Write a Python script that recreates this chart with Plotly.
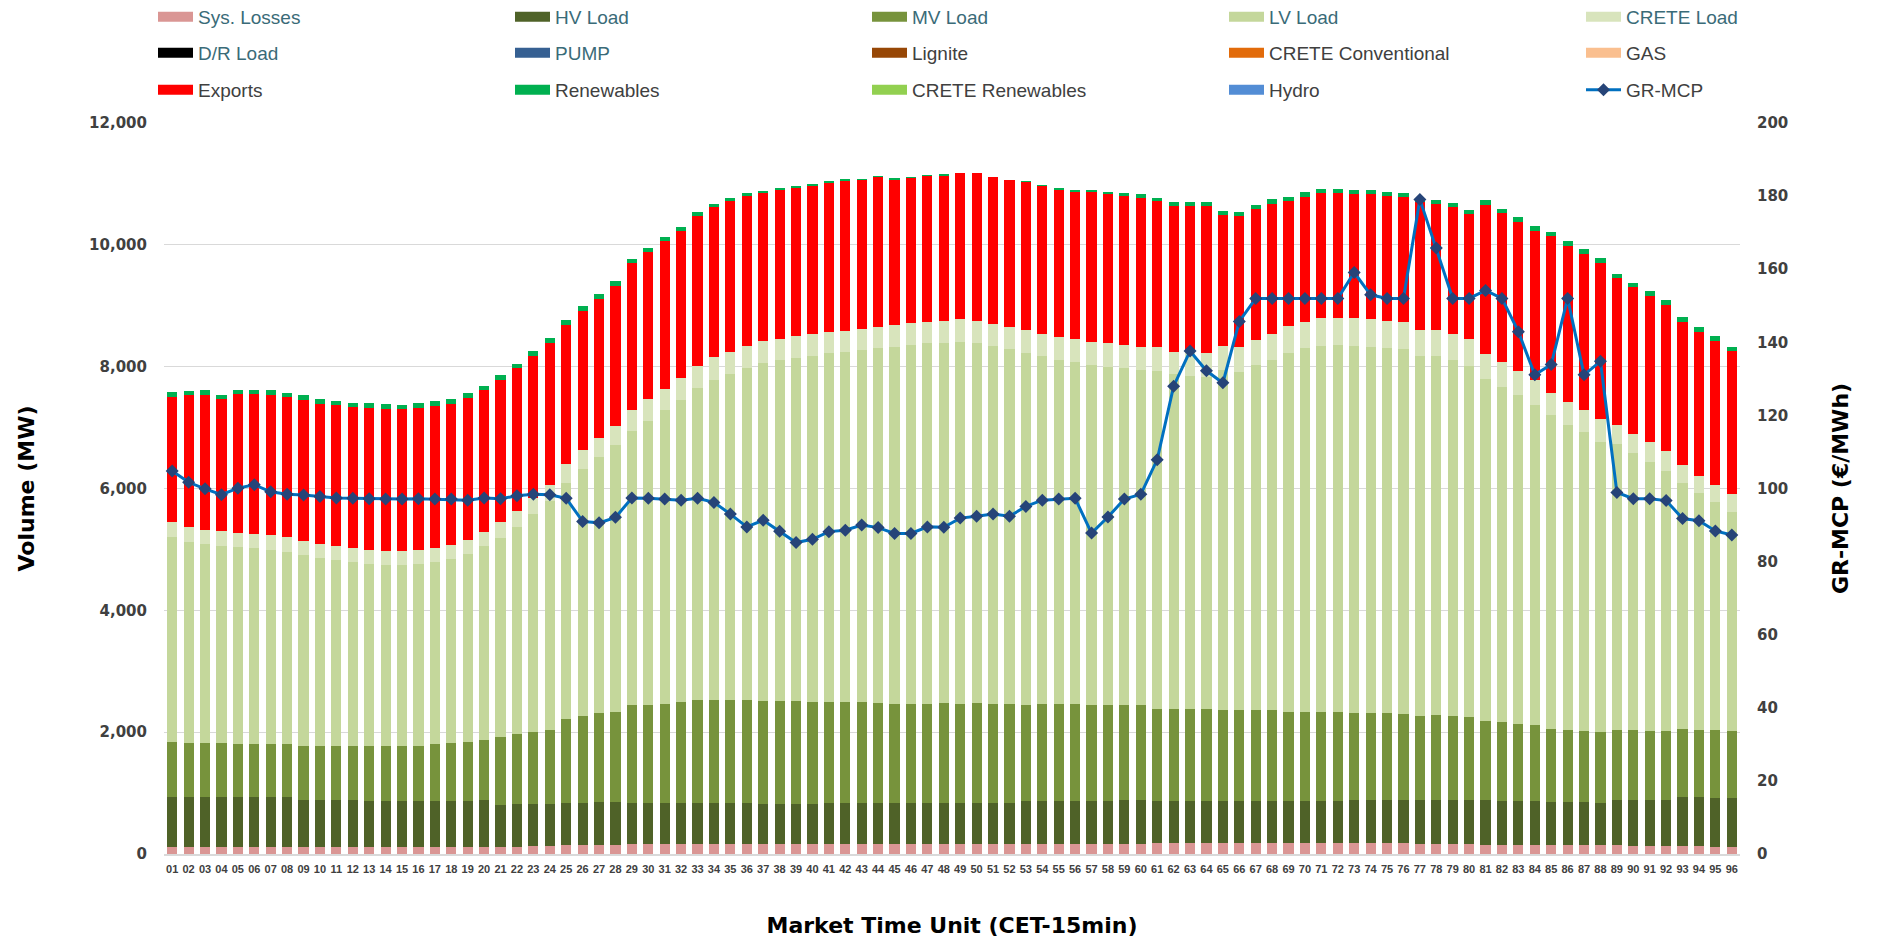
import plotly.graph_objects as go

# ---------------- data ----------------
mtu = ["01", "02", "03", "04", "05", "06", "07", "08", "09", "10", "11", "12",
       "13", "14", "15", "16", "17", "18", "19", "20", "21", "22", "23", "24",
       "25", "26", "27", "28", "29", "30", "31", "32", "33", "34", "35", "36",
       "37", "38", "39", "40", "41", "42", "43", "44", "45", "46", "47", "48",
       "49", "50", "51", "52", "53", "54", "55", "56", "57", "58", "59", "60",
       "61", "62", "63", "64", "65", "66", "67", "68", "69", "70", "71", "72",
       "73", "74", "75", "76", "77", "78", "79", "80", "81", "82", "83", "84",
       "85", "86", "87", "88", "89", "90", "91", "92", "93", "94", "95", "96"]

sys_losses = [110, 110, 110, 110, 110, 110, 110, 110, 110, 110, 110, 110,
              110, 110, 110, 110, 110, 110, 110, 110, 115, 120, 125, 130,
              140, 145, 150, 155, 160, 165, 165, 165, 170, 170, 170, 170,
              170, 170, 170, 170, 170, 170, 170, 170, 170, 170, 170, 170,
              170, 170, 170, 170, 170, 170, 170, 170, 170, 170, 170, 170,
              175, 175, 175, 175, 175, 175, 175, 175, 175, 175, 175, 175,
              183, 183, 183, 183, 165, 165, 165, 165, 155, 155, 155, 155,
              155, 155, 155, 155, 140, 135, 130, 130, 125, 125, 120, 120]

hv_load = [820, 820, 820, 820, 820, 820, 820, 820, 776, 776, 776, 776,
           762, 762, 762, 762, 762, 762, 762, 769, 691, 693, 688, 691,
           702, 697, 707, 702, 682, 677, 677, 677, 672, 672, 672, 665,
           658, 658, 651, 651, 672, 672, 672, 672, 672, 672, 672, 672,
           672, 672, 672, 672, 694, 694, 694, 694, 702, 702, 709, 709,
           697, 697, 697, 697, 689, 689, 689, 689, 689, 689, 689, 689,
           703, 703, 703, 703, 721, 721, 721, 721, 724, 717, 717, 709,
           702, 702, 702, 687, 746, 751, 756, 749, 805, 805, 803, 796]

mv_load = [902, 894, 894, 887, 872, 880, 872, 872, 880, 880, 880, 880,
           894, 894, 894, 901, 938, 952, 960, 989, 1121, 1158, 1194, 1216,
           1370, 1422, 1451, 1480, 1598, 1612, 1627, 1649, 1678, 1685, 1685, 1685,
           1685, 1677, 1684, 1677, 1656, 1656, 1649, 1642, 1620, 1620, 1627, 1642,
           1627, 1634, 1627, 1620, 1590, 1598, 1598, 1598, 1568, 1568, 1561, 1561,
           1516, 1516, 1509, 1509, 1495, 1495, 1502, 1495, 1473, 1473, 1473, 1466,
           1422, 1422, 1422, 1414, 1385, 1392, 1385, 1370, 1297, 1289, 1267, 1246,
           1194, 1180, 1165, 1165, 1151, 1143, 1136, 1143, 1114, 1107, 1106, 1106]

lv_load = [3369, 3297, 3260, 3231, 3231, 3216, 3187, 3158, 3142, 3091, 3055, 3033,
           2996, 2981, 2974, 2982, 2981, 3018, 3091, 3194, 3260, 3399, 3575, 3751,
           3876, 4051, 4212, 4381, 4498, 4652, 4820, 4967, 5128, 5261, 5356, 5451,
           5546, 5605, 5642, 5685, 5722, 5751, 5780, 5824, 5868, 5897, 5912, 5904,
           5941, 5912, 5868, 5831, 5773, 5706, 5648, 5619, 5589, 5560, 5531, 5509,
           5539, 5487, 5458, 5443, 5590, 5553, 5656, 5758, 5890, 5963, 6007, 6022,
           6029, 6022, 6000, 5993, 5905, 5898, 5846, 5759, 5626, 5509, 5392, 5267,
           5150, 5003, 4901, 4762, 4688, 4550, 4418, 4271, 4044, 3890, 3744, 3597]

crete_load = [242, 249, 242, 249, 234, 227, 242, 241, 235, 235, 234, 227,
              234, 227, 227, 234, 235, 235, 234, 227, 271, 264, 264, 271,
              315, 315, 315, 315, 351, 359, 352, 359, 367, 373, 366, 366,
              359, 352, 358, 352, 344, 344, 344, 344, 351, 352, 352, 359,
              367, 359, 366, 359, 374, 367, 381, 366, 381, 381, 381, 373,
              388, 367, 403, 403, 395, 410, 418, 425, 440, 440, 455, 447,
              454, 454, 439, 440, 425, 425, 425, 432, 403, 403, 396, 403,
              367, 374, 366, 374, 315, 315, 322, 322, 293, 278, 286, 286]

dr_load = [0] * 96
pump = [0] * 96
lignite = [0] * 96
crete_conventional = [0] * 96
gas = [0] * 96

exports = [2066, 2161, 2212, 2168, 2286, 2300, 2307, 2301, 2308, 2293, 2308, 2315,
           2330, 2337, 2344, 2337, 2329, 2315, 2323, 2323, 2330, 2337, 2330, 2329,
           2286, 2278, 2279, 2286, 2418, 2425, 2418, 2417, 2461, 2462, 2469, 2469,
           2432, 2439, 2433, 2439, 2454, 2462, 2455, 2462, 2396, 2395, 2403, 2396,
           2410, 2425, 2411, 2410, 2439, 2432, 2417, 2425, 2462, 2447, 2454, 2455,
           2403, 2403, 2388, 2403, 2140, 2147, 2146, 2132, 2058, 2051, 2051, 2051,
           2051, 2044, 2052, 2051, 2110, 2066, 2073, 2058, 2447, 2447, 2454, 2454,
           2571, 2571, 2564, 2557, 2411, 2410, 2396, 2403, 2352, 2366, 2366, 2359]

renewables = [81, 73, 74, 73, 66, 66, 74, 73, 80, 88, 73, 66,
              73, 74, 66, 73, 74, 81, 80, 73, 80, 73, 80, 81,
              80, 81, 80, 80, 66, 59, 73, 59, 66, 44, 44, 44,
              36, 37, 29, 22, 15, 10, 10, 5, 5, 5, 5, 5,
              0, 0, 0, 0, 3, 15, 30, 29, 36, 36, 51, 65,
              51, 66, 66, 73, 73, 73, 66, 81, 66, 73, 66, 66,
              66, 73, 73, 73, 58, 73, 66, 74, 81, 73, 73, 74,
              73, 74, 81, 80, 73, 73, 80, 81, 80, 81, 73, 66]

crete_renewables = [0] * 96
hydro = [0] * 96

gr_mcp = [104.8, 101.7, 99.9, 98.3, 100.1, 101.0, 99.1, 98.4, 98.2, 97.8, 97.4, 97.3,
          97.2, 97.1, 97.1, 97.2, 97.1, 97.1, 96.8, 97.4, 97.2, 98.0, 98.4, 98.3,
          97.3, 91.0, 90.6, 92.1, 97.4, 97.3, 97.1, 96.8, 97.3, 96.2, 93.0, 89.5,
          91.3, 88.3, 85.2, 86.1, 88.2, 88.6, 90.0, 89.3, 87.7, 87.7, 89.5, 89.4,
          91.9, 92.4, 93.0, 92.4, 95.1, 96.8, 97.1, 97.3, 87.8, 92.2, 97.1, 98.4,
          107.9, 128.0, 137.6, 132.2, 128.9, 145.7, 152.0, 152.0, 152.0, 152.0, 152.0, 152.0,
          159.1, 153.0, 152.0, 152.0, 179.1, 165.8, 152.0, 152.0, 154.2, 152.0, 142.9, 131.1,
          133.9, 152.0, 131.1, 134.8, 98.9, 97.2, 97.2, 96.7, 91.8, 91.2, 88.4, 87.3]

# ---------------- styling ----------------
W, H = 1877, 943
ML, MR, MT, MB = 164, 137, 123, 89
TEAL = "#3A6B78"
GRAY = "#404040"
TICK_FONT = dict(family="DejaVu Sans", size=15, color=GRAY, weight="bold")
TITLE_FONT = dict(family="DejaVu Sans", size=22, color="#000000", weight="bold")

# name, values, colour, legend text colour, legend row, legend column
series = [
    ("Sys. Losses", sys_losses, "#DA9694", TEAL, 1, 1),
    ("HV Load", hv_load, "#4F6228", TEAL, 1, 2),
    ("MV Load", mv_load, "#77933C", TEAL, 1, 3),
    ("LV Load", lv_load, "#C4D79B", TEAL, 1, 4),
    ("CRETE Load", crete_load, "#D8E4BC", TEAL, 1, 5),
    ("D/R Load", dr_load, "#000000", TEAL, 2, 1),
    ("PUMP", pump, "#366092", TEAL, 2, 2),
    ("Lignite", lignite, "#974706", GRAY, 2, 3),
    ("CRETE Conventional", crete_conventional, "#E26B0A", GRAY, 2, 4),
    ("GAS", gas, "#FABF8F", GRAY, 2, 5),
    ("Exports", exports, "#FF0000", GRAY, 3, 1),
    ("Renewables", renewables, "#00B050", GRAY, 3, 2),
    ("CRETE Renewables", crete_renewables, "#92D050", GRAY, 3, 3),
    ("Hydro", hydro, "#538DD5", GRAY, 3, 4),
]

fig = go.Figure()

# stacked bars (legend drawn by swatch entries below)
for name, vals, col, _, _, _ in series:
    fig.add_trace(go.Bar(
        x=mtu, y=vals, name=name,
        marker=dict(color=col, line=dict(width=0)),
        showlegend=False,
    ))


def legend_id(row, col):
    # columns 1-4 of each row share one horizontal legend; column 5 has its own
    idx = row if col <= 4 else row + 3
    return "legend" if idx == 1 else f"legend{idx}"


# legend swatches (wide rectangles like the original)
for name, vals, col, tcol, row, c in series:
    fig.add_trace(go.Scatter(
        x=[None], y=[None], mode="lines",
        line=dict(color=col, width=10),
        name=f"<span style='color:{tcol}'>{name}</span>",
        legend=legend_id(row, c), hoverinfo="skip",
    ))

# price line on secondary axis
fig.add_trace(go.Scatter(
    x=mtu, y=gr_mcp, yaxis="y2", mode="lines+markers",
    name=f"<span style='color:{GRAY}'>GR-MCP</span>",
    line=dict(color="#0070C0", width=3),
    marker=dict(symbol="diamond", size=10, color="#264478"),
    legend=legend_id(3, 5),
))

X0 = 153
COLW = 357
ITEMW = 35
ROW_Y = {1: 17, 2: 53, 3: 90}


def leg(row, col):
    return dict(
        orientation="h", xref="container", yref="container",
        x=(X0 + (col - 1) * COLW) / W, xanchor="left",
        y=1 - ROW_Y[row] / H, yanchor="middle",
        itemwidth=ITEMW,
        entrywidth=COLW - 45 - (ITEMW - 30), entrywidthmode="pixels",
        font=dict(family="Liberation Sans", size=19, color=GRAY),
        bgcolor="rgba(0,0,0,0)", traceorder="normal",
        itemclick=False, itemdoubleclick=False,
    )


fig.update_layout(
    width=W, height=H,
    margin=dict(l=ML, r=MR, t=MT, b=MB, autoexpand=False),
    paper_bgcolor="white", plot_bgcolor="white",
    barmode="stack", bargap=0.38,
    showlegend=True,
    legend=leg(1, 1),
    legend2=leg(2, 1),
    legend3=leg(3, 1),
    legend4=leg(1, 5),
    legend5=leg(2, 5),
    legend6=leg(3, 5),
    xaxis=dict(
        type="category", range=[-0.5, 95.5],
        tickfont=dict(family="Liberation Sans", size=11, color=GRAY, weight="bold"),
        tickangle=0, showgrid=False, ticks="",
        showline=True, linecolor="#D9D9D9", linewidth=2,
        ticklabelstandoff=4,
        title=dict(text="Market Time Unit (CET-15min)", font=TITLE_FONT, standoff=43),
        automargin=False,
    ),
    yaxis=dict(
        range=[0, 12000], dtick=2000, tickformat=",",
        showgrid=True, gridcolor="#D9D9D9", gridwidth=1,
        zeroline=False, showline=False, ticks="",
        tickfont=TICK_FONT, ticklabelstandoff=16,
        title=dict(text="Volume (MW)", font=TITLE_FONT, standoff=48),
        automargin=False,
    ),
    yaxis2=dict(
        overlaying="y", side="right", range=[0, 200], dtick=20,
        showgrid=False, zeroline=False, showline=False, ticks="",
        tickfont=TICK_FONT, ticklabelstandoff=16,
        title=dict(text="GR-MCP (€/MWh)", font=TITLE_FONT, standoff=45),
        automargin=False,
    ),
)

fig.write_html("out.html", config={"displayModeBar": False},
               post_script="document.body.style.margin='0px';")
